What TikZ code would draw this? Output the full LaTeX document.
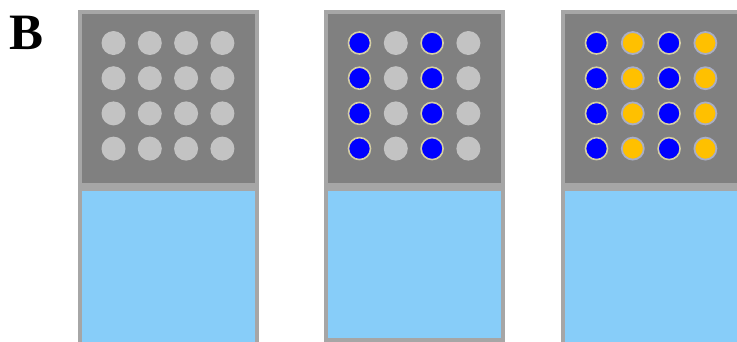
\documentclass[tikz,border=0pt]{standalone}
\usepackage{fontspec}
\setmainfont{Liberation Serif}
\usepackage{xcolor}
\definecolor{frame-bg}{HTML}{A6A6A6}
\definecolor{well-bg}{HTML}{808080}
\definecolor{spot-off}{HTML}{C3C3C3}
\definecolor{spot-blue}{HTML}{0000FF}
\definecolor{spot-gold}{HTML}{FFC000}
\definecolor{ring-blue}{HTML}{D6CFA4}
\definecolor{ring-gold}{HTML}{A9AEC6}
\definecolor{fluid}{HTML}{87CDF9}

\begin{document}
\begin{tikzpicture}[x=1pt, y=-1pt,
          dot off/.style={circle, inner sep=0pt, minimum size=24pt, fill=spot-off},
          dot blue/.style={circle, inner sep=0pt, minimum size=22pt, fill=spot-blue,
                           draw=ring-blue, line width=1.6pt},
          dot gold/.style={circle, inner sep=0pt, minimum size=22pt, fill=spot-gold,
                           draw=ring-gold, line width=1.8pt}]
        % Diagram: three chips side by side, each a grey well with a 4x4 grid of
        % spots above a blue fluid chamber; odd/even columns get their own colour.
        % Coordinates: (x, y) in px, y growing downwards, image 737 x 341.
        \clip (0,0) rectangle (737,341);
        \node[font=\bfseries\fontsize{51}{51}\selectfont, anchor=base west,
              inner sep=0pt] (panel-lbl) at (9,49) {B};
        \foreach \p/\x/\bot/\odd/\even in {0/78/345/off/off, 1/324/338/off/blue,
            2/561/345/gold/blue} {
          \fill[frame-bg] (\x,10) rectangle ++(181,335);
          \fill[well-bg] (\x+4,14) rectangle (\x+177,183);
          \fill[fluid] (\x+4,191) rectangle (\x+177,\bot);
          \foreach \c in {0,...,3} {
            \foreach \r in {0,...,3} {
              \ifodd\c
                \node[dot \odd] (s-\p-\c-\r) at (\x+35.5+\c*36.3, 43+\r*35.2) {};
              \else
                \node[dot \even] (s-\p-\c-\r) at (\x+35.5+\c*36.3, 43+\r*35.2) {};
              \fi
            }
          }
        }
      \end{tikzpicture}
\end{document}
